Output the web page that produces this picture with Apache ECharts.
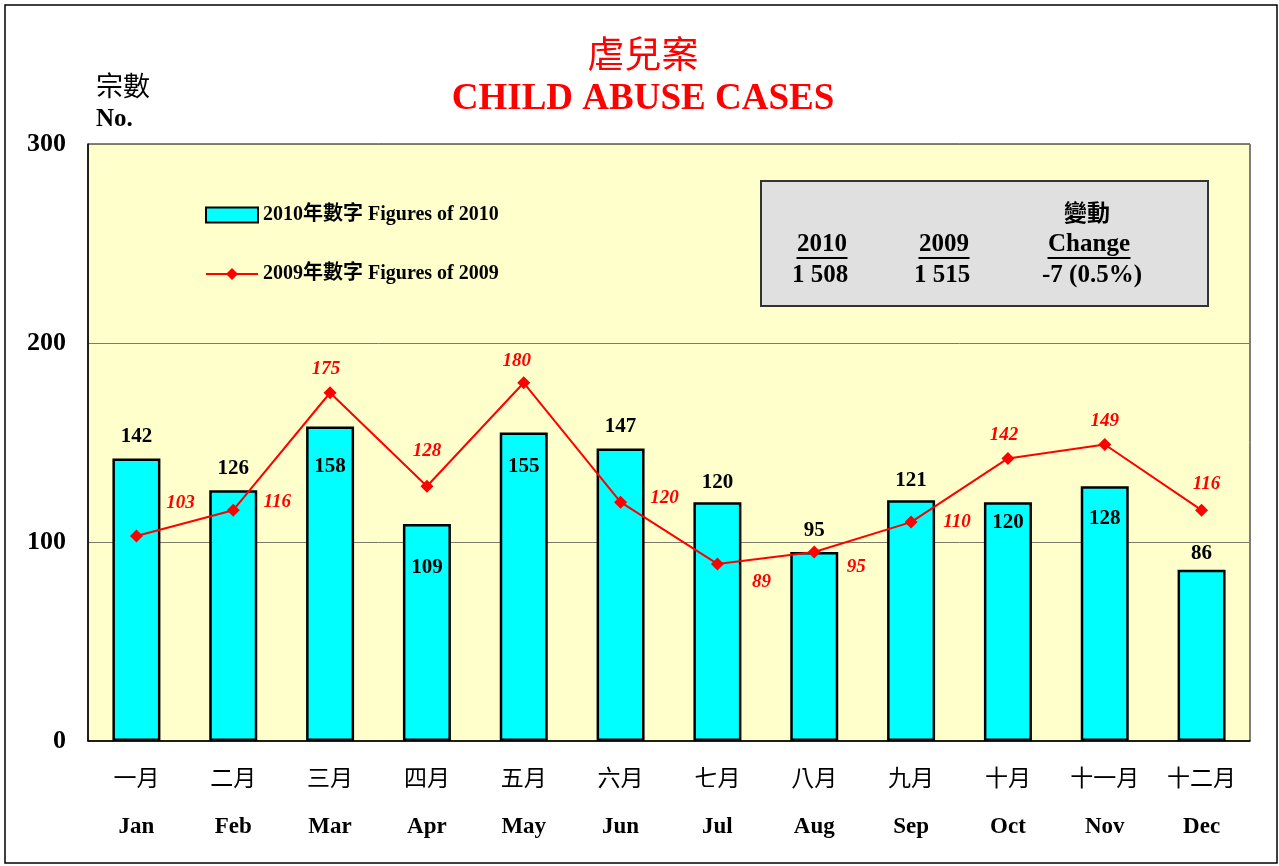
<!DOCTYPE html>
<html>
<head>
<meta charset="utf-8">
<script src="https://cdn.jsdelivr.net/npm/echarts@6/dist/echarts.min.js"></script>
<style>
  html, body { margin: 0; padding: 0; background: #fff; }
  #chart { width: 1279px; height: 866px; }
</style>
</head>
<body>
<div id="chart"></div>
<script>
// month labels
const monthsCn = ['一月', '二月', '三月', '四月', '五月', '六月', '七月', '八月', '九月', '十月', '十一月', '十二月']
const monthsEn = ['Jan', 'Feb', 'Mar', 'Apr', 'May', 'Jun', 'Jul', 'Aug', 'Sep', 'Oct', 'Nov', 'Dec']
// figures
const cases2010 = [142, 126, 158, 109, 155, 147, 120, 95, 121, 120, 128, 86]
const cases2009 = [103, 116, 175, 128, 180, 120, 89, 95, 110, 142, 149, 116]
const yTicks = [0, 100, 200, 300]
// summary box
const summaryHeads = ['2010', '2009', 'Change']
const summaryValues = ['1 508', '1 515', '-7 (0.5%)']
const seriesNames = ['2010年數字 Figures of 2010', '2009年數字 Figures of 2009']

const FONT = "'Liberation Serif', 'Noto Sans CJK TC', serif"
const CJK = "'Noto Sans CJK TC', sans-serif"

// label placement (hand tuned to look like the original)
const barLabelPos = ['top', 'top', 'insideTop', 'insideTop', 'insideTop', 'top', 'top', 'top', 'top', 'insideTop', 'insideTop', 'top']
const barLabelDist = [11, 11, 29, 33, 24, 11, 9, 11, 9, 10, 22, 6]
const lineLabelOffset = [[44, -33], [44, -8], [-4, -24], [0, -35], [-7, -22], [44, -4],
  [44, 18], [42, 15], [46, 0], [-4, -23], [0, -23], [5, -26]]

const chart = echarts.init(document.getElementById('chart'))

const barData = cases2010.map((v, i) => ({
  value: v,
  label: { position: barLabelPos[i], distance: barLabelDist[i] }
}))
const lineData = cases2009.map((v, i) => ({
  value: v,
  label: { position: 'inside', offset: lineLabelOffset[i] }
}))

function txt(x, y, text, size, bold, family) {
  return {
    type: 'text', x: x, y: y,
    style: {
      text: text, fontSize: size, fontWeight: bold ? 'bold' : 'normal',
      fontFamily: family || FONT, fill: '#000', align: 'center', verticalAlign: 'middle'
    }
  }
}

// summary box graphics
const colX = [822, 944, 1089]
const underlineW = [51, 51, 83]
const boxGraphics = [
  { type: 'rect', shape: { x: 761, y: 181, width: 447, height: 125 },
    style: { fill: '#E0E0E0', stroke: '#333', lineWidth: 2 } },
  txt(1087, 212, '變動', 23, true, CJK)
]
summaryHeads.forEach((h, i) => {
  boxGraphics.push(txt(colX[i], 245, h, 25, true))
  boxGraphics.push({ type: 'line',
    shape: { x1: colX[i] - underlineW[i] / 2, y1: 258, x2: colX[i] + underlineW[i] / 2, y2: 258 },
    style: { stroke: '#000', lineWidth: 2 } })
  boxGraphics.push(txt(colX[i] - 2 + (i === 2 ? 5 : 0), 276, summaryValues[i], 25, true))
})

chart.setOption({
  animation: false,
  backgroundColor: '#fff',
  title: {
    text: '虐兒案',
    subtext: 'CHILD ABUSE CASES',
    left: 638,
    textAlign: 'center',
    top: 30,
    itemGap: 9,
    textStyle: { color: '#FF0000', fontSize: 37, fontWeight: 'normal', fontFamily: CJK },
    subtextStyle: { color: '#FF0000', fontSize: 37, fontWeight: 'bold', fontFamily: FONT }
  },
  legend: {
    orient: 'vertical',
    left: 205,
    top: 205,
    padding: 0,
    itemWidth: 52,
    itemHeight: 15,
    itemGap: 39,
    data: [{ name: seriesNames[0], icon: 'rect' }, { name: seriesNames[1] }],
    textStyle: { fontSize: 20, fontWeight: 'bold', fontFamily: FONT, color: '#000' }
  },
  grid: {
    left: 88, right: 29, top: 144, bottom: 125,
    show: true,
    backgroundColor: '#FFFFCC',
    borderColor: '#000',
    borderWidth: 1
  },
  xAxis: {
    type: 'category',
    data: monthsEn.map((m, i) => monthsCn[i] + '\n' + m),
    axisLine: { lineStyle: { color: '#000', width: 1.5 } },
    axisTick: { show: false },
    axisLabel: {
      margin: 11,
      interval: 0,
      formatter: function (v) {
        const p = v.split('\n')
        return '{cn|' + p[0] + '}\n{en|' + p[1] + '}'
      },
      rich: {
        cn: { fontSize: 23, fontFamily: CJK, color: '#000', lineHeight: 50 },
        en: { fontSize: 23, fontWeight: 'bold', fontFamily: FONT, color: '#000', lineHeight: 50 }
      }
    }
  },
  yAxis: {
    type: 'value',
    min: yTicks[0],
    max: yTicks[yTicks.length - 1],
    interval: yTicks[1] - yTicks[0],
    axisLine: { show: true, lineStyle: { color: '#000', width: 1.5 } },
    axisTick: { show: false },
    axisLabel: { margin: 22, fontSize: 26, fontWeight: 'bold', fontFamily: FONT, color: '#000' },
    splitLine: { lineStyle: { color: '#7a7a66', width: 1 } }
  },
  series: [
    {
      name: seriesNames[0],
      type: 'bar',
      barWidth: 48,
      data: barData,
      itemStyle: { color: '#00FFFF', borderColor: '#000', borderWidth: 2.5 },
      label: {
        show: true,
        fontSize: 21,
        fontWeight: 'bold',
        fontFamily: FONT,
        color: '#000'
      }
    },
    {
      name: seriesNames[1],
      type: 'line',
      data: lineData,
      symbol: 'diamond',
      symbolSize: 13,
      color: '#FF0000',
      lineStyle: { color: '#FF0000', width: 2 },
      itemStyle: { color: '#FF0000' },
      label: {
        show: true,
        fontSize: 19,
        fontWeight: 'bold',
        fontStyle: 'italic',
        fontFamily: FONT,
        color: '#FF0000'
      },
      z: 5
    }
  ],
  graphic: [
    { type: 'rect', shape: { x: 5, y: 5, width: 1272, height: 858 },
      style: { fill: null, stroke: '#000', lineWidth: 1.5 }, z: 100 },
    { type: 'text', x: 96, y: 86,
      style: { text: '宗數', fontSize: 27, fontFamily: CJK, fill: '#000', verticalAlign: 'middle' } },
    { type: 'text', x: 96, y: 120,
      style: { text: 'No.', fontSize: 25, fontWeight: 'bold', fontFamily: FONT, fill: '#000', verticalAlign: 'middle' } }
  ].concat(boxGraphics)
})
</script>
</body>
</html>
